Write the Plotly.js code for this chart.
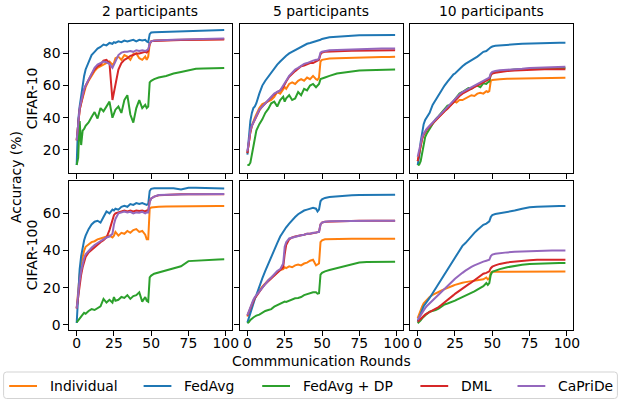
<!DOCTYPE html>
<html>
<head>
<meta charset="utf-8">
<script src="https://cdn.plot.ly/plotly-3.0.1.min.js"></script>
<style>html,body{margin:0;padding:0;background:#fff;}#chart{width:621px;height:400px;}</style>
</head>
<body>
<div id="chart"></div>
<script>
// ---------------- DATA ----------------
const ROUNDS = [0,1,2,3,4,5,6,8,10,12,14,16,18,20,22,24,25,26,28,30,32,34,36,38,40,42,44,46,47,48,49,50,52,55,60,65,70,75,80,85,90,95,99];

const SERIES = ['Individual','FedAvg','FedAvg + DP','DML','CaPriDe'];
const COLORS = ['#ff7f0e','#1f77b4','#2ca02c','#d62728','#9467bd'];
const PARTICIPANTS = ['2 participants','5 participants','10 participants'];
const DATASETS = ['CIFAR-10','CIFAR-100'];
const X_TICKS = [0,25,50,75,100];
const Y_TICKS_C10 = [20,40,60,80];
const Y_TICKS_C100 = [0,20,40,60];

// CIFAR-10, 2 participants
const c10_p2_individual = [26,37,45,49,53,56,59,63,66,69,71,72,73,74,75,73,74,77,78,76,79,78,76,79.5,80,77,76,78,76,78,86,87.5,88,88.2,88.3,88.4,88.5,88.6,88.7,88.8,88.8,88.9,89];
const c10_p2_fedavg = [10.6,38,47,54,60,66,70,75,79,81,83,84,85.5,85,86.5,86,87,86.5,87.5,87,88,87.5,88,88.5,87.5,88.5,88,88.5,87.5,87,92,93,93.2,93.3,93.5,93.5,93.8,93.8,94,94.2,94.3,94.4,94.5];
const c10_p2_dp = [10.6,15,38,23,32,33,35,37,40.5,43.5,39.5,46,44,47,50,40,42,45,47,43,51,54,42,37,46,51,46,48,46,47,62,63,64,65,66,67.5,68.5,69.5,70.5,70.6,70.8,71,71];
const c10_p2_dml = [26,37,45,49,54,57,60,64,67,70,72,73,75.5,76,74,51,56,62,70,74,76,77,78.5,79,80,80,80.5,81,80.5,81.5,86,87.5,87.8,88,88,88.2,88.3,88.4,88.5,88.5,88.6,88.7,88.7];
const c10_p2_capride = [26,38,46,50,55,58,60,64,68,71,73,74,75,74.5,73.5,71,73,76,79,80.5,81,81,81.5,81,82,81.5,82,81.5,82,82.5,86,87.5,88,88.2,88.3,88.5,88.6,88.8,89,89,89.1,89.2,89.3];

// CIFAR-10, 5 participants
const c10_p5_individual = [18,25,31,35,38,40,42,46,48.5,49.5,50,51,53,56,55,58,59,58,61,62,61,63,64,63,65,64,66,64,63.5,65,75,76,76.5,76.8,77,77.2,77.3,77.5,77.6,77.7,77.8,77.8,77.9];
const c10_p5_fedavg = [17,28,38,43,46,47,49,55,60,63,65.5,68,71,73,75,77,78,78.5,80,81,82,83.5,84,85,86,86.5,87,87.5,88,88,88.5,89,89.5,90,90.3,90.8,91,91.3,91.3,91.4,91.5,91.5,91.5];
const c10_p5_dp = [10.6,10.6,12,17,22,27,32,36,39,43,45.5,49,50,47,51,53,50,52,54,51,52,56,54,58,57,60,61,59,60,61,64,64.5,65,66,67.5,68.2,68.8,69.3,69.5,69.7,69.8,70,70];
const c10_p5_dml = [18,25,31,35,37,39,41,44.5,47,49,51,52.5,54.5,56,57,59,61,62.5,65.5,67.5,69,70.5,72,72.5,73.5,74,74,75,75,76,79.5,80.5,81,81.2,81.3,81.5,81.6,81.7,81.8,81.9,82,82,82];
const c10_p5_capride = [19,26,32,35,37,39,41,45,47,49,51,53,55,56,57,60,62,63,66,68,70,71,72.5,73.5,74,75,75.5,76,76,77,80.5,81,81.5,82,82.2,82.4,82.5,82.7,82.8,82.9,83,83,83];

// CIFAR-10, 10 participants
const c10_p10_individual = [13,18,23,27,29.5,31,32.5,34.5,36.5,38.5,40.5,42.5,44.5,46.5,48,49.5,50,49.5,51,51,52,52.5,54,53.5,55,55.5,55,56.5,56,56.5,63,63.5,63.8,64,64.2,64.3,64.4,64.5,64.6,64.7,64.8,64.8,64.8];
const c10_p10_fedavg = [10.6,16,25,31,36,38.6,40,43,48,51,54,57.5,60,62.5,65,67,67.5,68.5,70.5,72,73.5,74.5,76,77,78,79.5,81,81.5,82.5,83,83.8,84.3,84.7,85,85.4,85.7,86,86.2,86.3,86.4,86.5,86.6,86.6];
const c10_p10_dp = [10.6,10.8,13,19,24,28,30,33,36,39,41,43,45,47.5,48,50.5,52,53,55,56,57.5,58.5,58,59.5,60,59,61.5,61,62,62.5,67,68,68.5,69,69.5,70,70.3,70.6,70.8,70.9,71,71,71];
const c10_p10_dml = [13,18,23,27,29.5,31,32.5,34.5,36.5,38.5,40.5,42,44,45.5,47.5,50,51,52,53.5,55,56,57,58.5,59.5,60.5,61.5,62,63,63.5,64,66.5,67.5,68,68.5,69,69.3,69.6,69.8,70,70.1,70.2,70.2,70.2];
const c10_p10_capride = [15.8,20,25,28,30,31.5,33,35,37,39,41,43,45,46.5,48.5,51,52,53,54.5,56,57,58,59.5,60.5,61.5,62.5,63,64,64.5,65,67.5,68.5,69,69.5,69.8,70,70.5,71,71.2,71.4,71.5,71.6,71.7];

// CIFAR-100, 2 participants
const c100_p2_individual = [8.9,20,27,33,37,40,42,43.5,44.5,45,46,46.5,47,47.5,48,47,48,50,48,49.5,49,50.5,49.5,51,51.5,50,50.5,48.5,46,46,62.5,63.2,63.5,63.6,63.7,63.8,63.8,63.8,63.9,64,64,64,64];
const c100_p2_fedavg = [1,20,30,37,42,45.5,48,51.5,54,55.5,56,55,58,61,60,62,61.5,62.5,62,63.5,64,63.5,65,64.5,65.5,65,65.5,65,64.5,65,72,73.2,73.5,73.5,73.6,73.5,72.8,73.8,73.8,73.8,73.7,73.5,73.4];
const c100_p2_dp = [1.3,2.5,3.5,5,5.5,6.5,6,7.5,8.5,8,9,10,14,12,13.5,12,15,13,13.5,15,14.5,16,14,15.5,16,17.5,12.5,15,13,12.5,25.5,26.5,27.5,28.2,29.3,30.2,31.5,34.3,34.6,34.8,35,35.2,35.3];
const c100_p2_dml = [8.9,16,22,27,31,34,36.5,39,40.5,42,43,44.5,45.5,47,51,57,59,60,60.5,61,61.5,61,61.5,61,61.5,61.2,61.5,61,61.5,61.5,66.5,68,69,69.7,70,70.1,70.2,70.3,70.3,70.3,70.3,70.3,70.3];
const c100_p2_capride = [8.9,17,24,29,33,36,38,40,41.5,43,44,45,46,47,47.5,49,54,57,60,60.5,61,60.5,60.8,60,60.5,60.3,60.8,60,60.5,60.5,66,68,69,69.8,70,70.1,70.2,70.3,70.3,70.4,70.4,70.4,70.4];

// CIFAR-100, 5 participants
const c100_p5_individual = [4.4,7,9,11,13,14.5,16,18.5,20.5,22.5,24,25.5,27,28.5,29.5,30,31,30.5,31.5,31,32,32.5,32,33,33.5,34.5,35,32,32.5,33,44.5,45.5,46,46.1,46.2,46.2,46.3,46.3,46.3,46.3,46.3,46.3,46.3];
const c100_p5_fedavg = [1.2,4,7,9.5,12,14,16,21,25,29,33,37,41,44,47.5,50,51.5,52.5,54.5,56.5,58,59.5,60.5,61.5,62,62.5,63,62.5,61,62,66.5,67.5,68.3,68.8,69.2,69.5,69.7,69.8,69.9,69.9,70,70,70];
const c100_p5_dp = [0.9,1.5,2.7,3.5,4,4.5,5,5.5,6.5,7.5,8,8.5,9.8,10.5,11,12,12.5,12.3,13,13.5,14.3,14.5,15,16,16.5,17,17.5,17.5,16.8,17,27,28,28.8,29.5,30.5,31.5,32.5,33.5,33.8,33.9,34,34,34];
const c100_p5_dml = [5,7,9,11,13,14.5,15.5,18,20,22,23.5,25,27,28.5,29.5,31,38,43,46,47,47.5,48,48.2,48.5,49,49,49.2,49.5,49.8,50,54,55,55.5,55.6,55.7,55.8,55.9,56,56,56,56,56,56];
const c100_p5_capride = [5.3,7.5,9.5,11.5,13.5,15,16,18.5,20.5,22.5,24,25.5,27.5,29,30,33,42,44.5,46.5,47,47.5,48,48.2,48.5,49,49,49.5,49.5,50,50,54,55,55.5,55.7,55.8,55.9,56,56,56,56,56,56,56];

// CIFAR-100, 10 participants
const c100_p10_individual = [3.6,6,8,10,11.6,12.5,13.5,15,16.1,17,17.8,18.5,19.2,20,20.6,21.2,21.5,21.8,22.4,22.7,23,23.2,23.5,23.8,24,24.2,24.5,25.5,24.5,25,28,28.6,28.6,28.7,28.7,28.7,28.7,28.7,28.7,28.7,28.7,28.7,28.7];
const c100_p10_fedavg = [1.7,3.5,5.5,8,10,11,12,14.5,17,19.5,22,24.5,27,29.5,32,35,36,37.5,39.5,42.5,44,46,48,49.5,51,52.5,53.8,54.5,55,55.7,58,59.1,59.6,60,60.7,61.5,62.5,63.3,63.6,63.8,63.9,63.9,63.9];
const c100_p10_dp = [0.9,1.5,2.5,3.5,4.4,5,5.8,7.1,7.5,8,8.8,10,11,11.5,12,12.8,13,13.5,14.2,15,15.6,16.4,17.2,18,19,19.8,20.8,22.5,21.5,22.5,27,28.6,29.2,30,31,31.8,32.3,32.7,33,33.1,33.2,33.3,33.3];
const c100_p10_dml = [1.7,2.5,3.5,4.3,5,5.5,6,6.8,7.6,8.6,9.6,10.8,12,13.3,14.5,16,16.7,17.3,18.5,19.8,20.8,21.8,22.8,24,25.2,26.3,27.5,28,28.4,28.8,30.5,31.3,32,32.8,33.6,34.1,34.5,34.8,35,35,35,35,35];
const c100_p10_capride = [2.7,4,5.5,7,8,9,10,11.5,13.4,15,16.5,18,19.5,21,22.4,24,24.8,25.5,27,28,29.2,30.3,31.2,32,32.8,33.5,34,34.5,34.7,35,37,37.8,38.3,38.7,39,39.3,39.5,39.7,39.8,39.9,40,40,40];

const PANEL_DATA = [
  [c10_p2_individual, c10_p2_fedavg, c10_p2_dp, c10_p2_dml, c10_p2_capride],
  [c10_p5_individual, c10_p5_fedavg, c10_p5_dp, c10_p5_dml, c10_p5_capride],
  [c10_p10_individual, c10_p10_fedavg, c10_p10_dp, c10_p10_dml, c10_p10_capride],
  [c100_p2_individual, c100_p2_fedavg, c100_p2_dp, c100_p2_dml, c100_p2_capride],
  [c100_p5_individual, c100_p5_fedavg, c100_p5_dp, c100_p5_dml, c100_p5_capride],
  [c100_p10_individual, c100_p10_fedavg, c100_p10_dp, c100_p10_dml, c100_p10_capride]
];

// ---------------- LAYOUT ----------------
const W = 621, H = 400;
const FONT = 'DejaVu Sans';
const FS = 13.9;
const px = v => v / W;
const py = v => 1 - v / H;

const COL_PX = [[69.3, 231.6], [240, 402.5], [410.3, 572.8]];
const ROW_PX = [[24, 172.7], [180.7, 330]];
const Y_RANGES = [[5.8, 98.3], [-2.75, 77.55]];
const Y_TICKS = [Y_TICKS_C10, Y_TICKS_C100];

const traces = [];
const layout = {
  width: W, height: H,
  margin: {l: 0, r: 0, t: 0, b: 0, pad: 0},
  paper_bgcolor: '#ffffff', plot_bgcolor: '#ffffff',
  showlegend: false,
  font: {family: FONT, size: FS, color: '#000'},
  annotations: [], shapes: []
};

for (let k = 0; k < 6; k++) {
  const row = Math.floor(k / 3), col = k % 3;
  const id = k === 0 ? '' : String(k + 1);
  const xa = 'x' + id, ya = 'y' + id;
  PANEL_DATA[k].forEach((vals, j) => {
    traces.push({
      type: 'scatter', mode: 'lines', x: ROUNDS, y: vals,
      xaxis: xa, yaxis: ya, name: SERIES[j],
      line: {color: COLORS[j], width: 2}, hoverinfo: 'skip'
    });
  });
  const common = {
    showline: true, mirror: true, linecolor: '#000', linewidth: 1,
    ticks: 'outside', ticklen: 5, tickwidth: 1, tickcolor: '#000',
    showgrid: false, zeroline: false, fixedrange: true,
    tickfont: {family: FONT, size: FS, color: '#000'}
  };
  layout['xaxis' + id] = Object.assign({}, common, {
    domain: [px(COL_PX[col][0]), px(COL_PX[col][1])],
    range: [-4.95, 103.95], anchor: ya,
    tickmode: 'array', tickvals: X_TICKS, ticktext: X_TICKS.map(String),
    showticklabels: row === 1, ticklabelstandoff: -5
  });
  layout['yaxis' + id] = Object.assign({}, common, {
    domain: [py(ROW_PX[row][1]), py(ROW_PX[row][0])],
    range: Y_RANGES[row], anchor: xa,
    tickmode: 'array', tickvals: Y_TICKS[row], ticktext: Y_TICKS[row].map(String),
    showticklabels: col === 0
  });
}

function ann(text, x, y, opts) {
  layout.annotations.push(Object.assign({
    text: text, x: px(x), y: py(y), xref: 'paper', yref: 'paper',
    showarrow: false, xanchor: 'center', yanchor: 'middle',
    font: {family: FONT, size: FS, color: '#000'}
  }, opts || {}));
}

// column titles
PARTICIPANTS.forEach((t, c) => ann(t, (COL_PX[c][0] + COL_PX[c][1]) / 2, 11));
// row labels
DATASETS.forEach((t, r) => ann(t, 32, (ROW_PX[r][0] + ROW_PX[r][1]) / 2, {textangle: -90}));
ann('Accuracy (%)', 16, 177, {textangle: -90});
ann('Commmunication Rounds', 321, 361);

// legend (drawn with shapes + annotations)
const LEG = {x0: 3.6, x1: 617.4, y0: 372, y1: 398.5, r: 3};
const legPath = (() => {
  const {x0, x1, y0, y1, r} = LEG;
  const X = v => px(v), Y = v => py(v);
  return `M${X(x0 + r)},${Y(y0)} L${X(x1 - r)},${Y(y0)} Q${X(x1)},${Y(y0)} ${X(x1)},${Y(y0 + r)} ` +
         `L${X(x1)},${Y(y1 - r)} Q${X(x1)},${Y(y1)} ${X(x1 - r)},${Y(y1)} ` +
         `L${X(x0 + r)},${Y(y1)} Q${X(x0)},${Y(y1)} ${X(x0)},${Y(y1 - r)} ` +
         `L${X(x0)},${Y(y0 + r)} Q${X(x0)},${Y(y0)} ${X(x0 + r)},${Y(y0)} Z`;
})();
layout.shapes.push({type: 'path', xref: 'paper', yref: 'paper', path: legPath,
  line: {color: '#d3d3d3', width: 1}, fillcolor: '#ffffff', layer: 'above'});
const LEG_TEXT_X = [48.1, 182.5, 301.1, 459.3, 556.4];
const LEG_Y = 386;
SERIES.forEach((s, j) => {
  const tx = LEG_TEXT_X[j];
  layout.shapes.push({type: 'line', xref: 'paper', yref: 'paper',
    x0: px(tx - 11.1 - 27.8), x1: px(tx - 11.1), y0: py(LEG_Y), y1: py(LEG_Y),
    line: {color: COLORS[j], width: 2}, layer: 'above'});
  ann(s, tx, LEG_Y, {xanchor: 'left'});
});

Plotly.newPlot('chart', traces, layout, {staticPlot: true, displayModeBar: false});
</script>
</body>
</html>
